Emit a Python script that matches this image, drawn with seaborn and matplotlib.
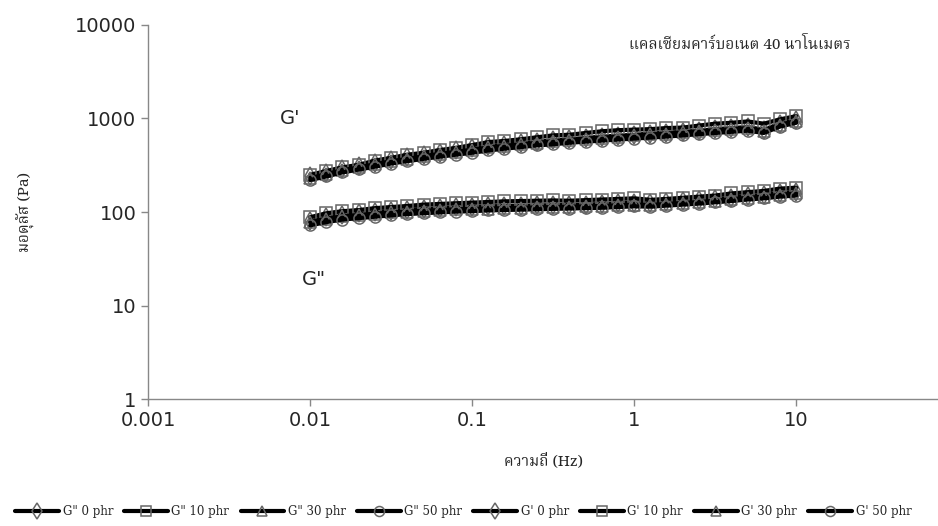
import numpy as np
import pandas as pd
import matplotlib
matplotlib.use("Agg")
import matplotlib.pyplot as plt
import seaborn as sns

# ความถี่ (Hz) - 10 จุดต่อ decade
freq = [0.01, 0.0126, 0.0158, 0.02, 0.0251, 0.0316, 0.0398, 0.0501, 0.0631, 0.0794,
        0.1, 0.126, 0.158, 0.2, 0.251, 0.316, 0.398, 0.501, 0.631, 0.794,
        1.0, 1.26, 1.58, 2.0, 2.51, 3.16, 3.98, 5.01, 6.31, 7.94, 10.0]

# G'' (loss modulus)
gpp_0 = [80, 88, 93, 97, 100, 103, 106, 108, 110, 112, 114, 115, 116, 117, 118, 118,
         119, 120, 122, 124, 126, 124, 127, 130, 133, 137, 142, 148, 152, 160, 165]
gpp_10 = [88, 97, 102, 105, 110, 113, 116, 120, 122, 124, 126, 128, 130, 131, 132, 133,
          132, 134, 136, 138, 140, 135, 138, 142, 146, 150, 158, 163, 168, 178, 182]
gpp_30 = [78, 85, 90, 93, 96, 99, 101, 103, 105, 107, 108, 109, 110, 111, 112, 113,
          114, 115, 116, 118, 120, 119, 122, 125, 128, 132, 137, 142, 146, 153, 158]
gpp_50 = [72, 78, 83, 86, 89, 92, 95, 97, 99, 101, 102, 104, 105, 106, 107, 108,
          109, 110, 111, 113, 115, 114, 117, 120, 123, 127, 131, 136, 140, 146, 150]

# G' (storage modulus)
gp_0 = [240, 260, 285, 310, 335, 360, 385, 405, 430, 455, 480, 505, 525, 545, 565, 585,
        600, 620, 640, 655, 670, 690, 705, 720, 740, 770, 790, 810, 760, 880, 960]
gp_10 = [250, 275, 300, 320, 355, 380, 410, 430, 460, 485, 520, 560, 575, 600, 630, 660,
         670, 700, 730, 750, 760, 770, 790, 800, 840, 880, 900, 930, 880, 980, 1060]
gp_30 = [230, 255, 280, 300, 325, 350, 370, 395, 420, 440, 465, 490, 510, 530, 550, 570,
         590, 610, 625, 640, 660, 675, 690, 710, 730, 750, 770, 790, 740, 860, 940]
gp_50 = [220, 240, 265, 285, 305, 330, 350, 370, 390, 410, 430, 455, 475, 495, 515, 530,
         550, 565, 580, 595, 610, 625, 640, 660, 680, 700, 720, 740, 700, 820, 900]

series = [
    ('G" 0 phr', gpp_0, 'd'),
    ('G" 10 phr', gpp_10, 's'),
    ('G" 30 phr', gpp_30, '^'),
    ('G" 50 phr', gpp_50, 'o'),
    ("G' 0 phr", gp_0, 'd'),
    ("G' 10 phr", gp_10, 's'),
    ("G' 30 phr", gp_30, '^'),
    ("G' 50 phr", gp_50, 'o'),
]

sns.set_style("white")
thai_fonts = ['Noto Serif Thai', 'Noto Sans Thai', 'Loma', 'Garuda', 'Norasi',
              'DejaVu Serif', 'DejaVu Sans']
plt.rcParams['font.family'] = ['DejaVu Sans', 'Noto Sans Thai']

fig = plt.figure(figsize=(9.38, 5.26), dpi=100)
ax = fig.add_axes([0.158, 0.2414, 0.842, 0.7111])

for label, vals, mk in series:
    df = pd.DataFrame({'freq': freq, 'mod': vals})
    sns.lineplot(data=df, x='freq', y='mod', ax=ax, color='black', linewidth=3,
                 marker=mk, markersize=8 if mk != 'd' else 9, markerfacecolor='none',
                 markeredgecolor='#666666', markeredgewidth=1.1, label=label)

ax.set_xscale('log')
ax.set_yscale('log')
ax.set_xlim(0.001, 75)
ax.set_ylim(1, 10000)
ax.set_xticks([0.001, 0.01, 0.1, 1, 10])
ax.set_xticklabels(['0.001', '0.01', '0.1', '1', '10'])
ax.set_yticks([1, 10, 100, 1000, 10000])
ax.set_yticklabels(['1', '10', '100', '1000', '10000'])
ax.minorticks_off()
ax.tick_params(axis='both', labelsize=14, length=5, width=1, color='#888888',
               direction='out', left=True, bottom=True)
for sp in ['top', 'right']:
    ax.spines[sp].set_visible(False)
for sp in ['left', 'bottom']:
    ax.spines[sp].set_color('#888888')
    ax.spines[sp].set_linewidth(1)

ax.set_xlabel('ความถี่ (Hz)', fontsize=11, fontweight='bold', family=thai_fonts, labelpad=17)
ax.set_ylabel('มอดุลัส (Pa)', fontsize=11, fontweight='bold', family=thai_fonts, labelpad=29)

ax.text(0.0075, 1000, "G'", fontsize=14, ha='center', va='center')
ax.text(0.0105, 19, 'G"', fontsize=14, ha='center', va='center')
ax.text(4.5, 6100, 'แคลเซียมคาร์บอเนต 40 นาโนเมตร', fontsize=11, fontweight='bold',
        ha='center', va='center', family=thai_fonts)

ax.get_legend().remove()
handles, labels = ax.get_legend_handles_labels()
fig.legend(handles, labels, loc='lower left', bbox_to_anchor=(0.005, -0.005), ncol=8,
           frameon=False, prop={'family': 'DejaVu Serif', 'size': 8.5},
           handlelength=3.7, columnspacing=0.95, handletextpad=0.3, markerscale=0.9)

fig.savefig('out.png', dpi=100)
